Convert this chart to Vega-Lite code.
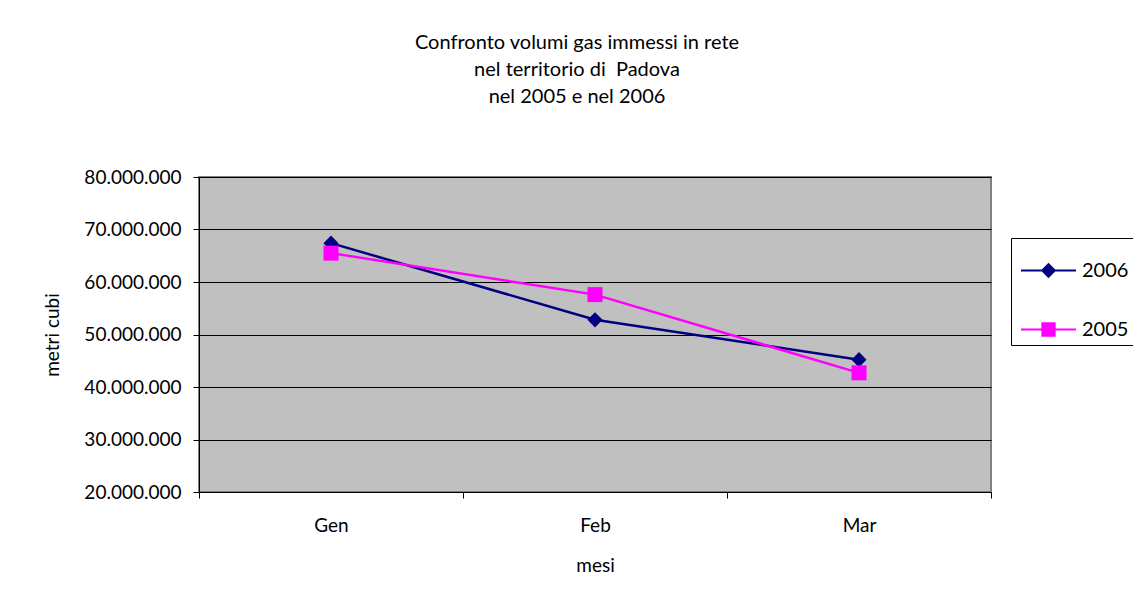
{
  "$schema": "https://vega.github.io/schema/vega-lite/v6.json",
  "width": 792,
  "height": 315,
  "autosize": {"type": "none"},
  "padding": {"left": 199, "top": 177, "right": 142, "bottom": 114},
  "background": "white",
  "title": {
    "text": ["Confronto volumi gas immessi in rete", "nel territorio di \u00a0Padova", "nel 2005 e nel 2006"],
    "font": "Lato",
    "fontSize": 20,
    "fontWeight": "normal",
    "lineHeight": 27,
    "offset": 61,
    "dx": -18,
    "anchor": "middle",
    "color": "black"
  },
  "data": {
    "values": [
      {"anno": "2006", "mese": "Gen", "valore": 67400000},
      {"anno": "2006", "mese": "Feb", "valore": 52800000},
      {"anno": "2006", "mese": "Mar", "valore": 45200000},
      {"anno": "2005", "mese": "Gen", "valore": 65500000},
      {"anno": "2005", "mese": "Feb", "valore": 57600000},
      {"anno": "2005", "mese": "Mar", "valore": 42700000}
    ]
  },
  "encoding": {
    "x": {
      "field": "mese",
      "type": "nominal",
      "sort": ["Gen", "Feb", "Mar"],
      "bandPosition": 0.5,
      "scale": {"type": "band", "paddingInner": 0, "paddingOuter": 0},
      "axis": {
        "title": "mesi",
        "labelAngle": 0,
        "tickBand": "extent",
        "tickSize": 6,
        "labelPadding": 18,
        "titlePadding": 21,
        "grid": false
      }
    },
    "y": {
      "field": "valore",
      "type": "quantitative",
      "scale": {"domain": [20000000, 80000000]},
      "axis": {
        "title": "metri cubi",
        "values": [20000000, 30000000, 40000000, 50000000, 60000000, 70000000, 80000000],
        "format": ",.0f",
        "tickSize": 6,
        "labelPadding": 12,
        "titlePadding": 21,
        "grid": true,
        "gridColor": "black",
        "gridWidth": 1,
        "gridOpacity": 1
      }
    }
  },
  "layer": [
    {
      "transform": [{"filter": "datum.anno == '2006'"}],
      "mark": {"type": "line", "strokeWidth": 2.5, "color": "#000080"},
      "encoding": {}
    },
    {
      "transform": [{"filter": "datum.anno == '2005'"}],
      "mark": {"type": "line", "strokeWidth": 2.5, "color": "#FF00FF"},
      "encoding": {}
    },
    {
      "transform": [{"filter": "datum.anno == '2006'"}],
      "mark": {"type": "point", "shape": "diamond", "filled": true, "size": 230, "color": "#000080", "opacity": 1}
    },
    {
      "transform": [{"filter": "datum.anno == '2005'"}],
      "mark": {"type": "point", "shape": "square", "filled": true, "size": 225, "color": "#FF00FF", "opacity": 1}
    },
    {
      "mark": {"type": "point", "filled": true, "opacity": 0},
      "encoding": {
        "fill": {
          "field": "anno",
          "type": "nominal",
          "scale": {"domain": ["2006", "2005"], "range": ["#000080", "#FF00FF"]},
          "legend": {"title": null}
        },
        "shape": {
          "field": "anno",
          "type": "nominal",
          "scale": {
            "domain": ["2006", "2005"],
            "range": [
              "M-1,-0.04H1V0.04H-1ZM0,-0.28L0.28,0L0,0.28L-0.28,0Z",
              "M-1,-0.04H1V0.04H-1ZM-0.26,-0.26H0.26V0.26H-0.26Z"
            ]
          },
          "legend": {"title": null}
        }
      }
    }
  ],
  "config": {
    "locale": {"number": {"decimal": ",", "thousands": ".", "grouping": [3], "currency": ["€", ""]}},
    "view": {"fill": "#C0C0C0", "stroke": "#808080", "strokeWidth": 2},
    "legend": {
      "orient": "none",
      "legendX": 812,
      "legendY": 61,
      "padding": 5,
      "rowPadding": 21,
      "symbolSize": 3025,
      "symbolOffset": 5,
      "labelOffset": 6,
      "labelFont": "Lato",
      "labelFontSize": 20,
      "labelColor": "black",
      "fillColor": "white",
      "strokeColor": "black",
      "symbolOpacity": 1,
      "symbolStrokeWidth": 0
    },
    "axis": {
      "labelFont": "Lato",
      "labelFontSize": 19,
      "labelColor": "black",
      "titleFont": "Lato",
      "titleFontSize": 19,
      "titleFontWeight": "normal",
      "titleColor": "black",
      "domainColor": "black",
      "domainWidth": 1,
      "tickColor": "black",
      "tickWidth": 1
    }
  }
}
